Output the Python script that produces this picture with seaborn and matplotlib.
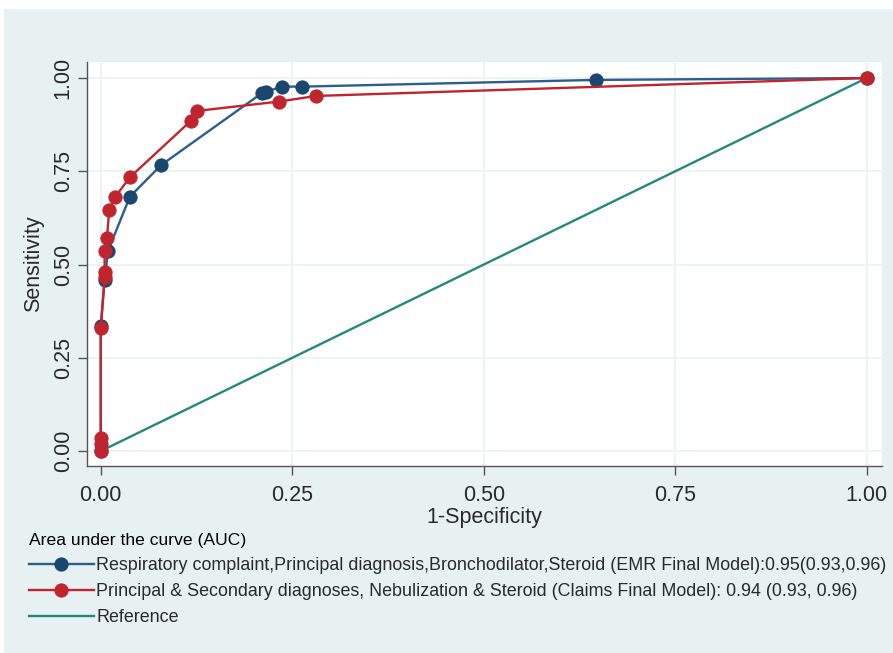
import pandas as pd
import seaborn as sns
import matplotlib
matplotlib.use('Agg')
import matplotlib.pyplot as plt
from matplotlib.patches import Rectangle

## ROC points
emr_fpr = [0, 0, 0.005, 0.0095, 0.038, 0.079, 0.210, 0.216, 0.236, 0.263, 0.646, 1.0]
emr_tpr = [0, 0.336, 0.458, 0.537, 0.682, 0.767, 0.959, 0.963, 0.977, 0.977, 0.995, 1.0]

claims_fpr = [0, 0, 0, 0, 0.005, 0.005, 0.005, 0.008, 0.011, 0.019, 0.038, 0.118, 0.126, 0.233, 0.281, 1.0]
claims_tpr = [0, 0.02, 0.034, 0.329, 0.467, 0.481, 0.537, 0.570, 0.646, 0.682, 0.734, 0.886, 0.912, 0.937, 0.952, 1.0]

ref_x = [0, 1]
ref_y = [0, 1]

emr_label = 'Respiratory complaint,Principal diagnosis,Bronchodilator,Steroid (EMR Final Model):0.95(0.93,0.96)'
claims_label = 'Principal & Secondary diagnoses, Nebulization & Steroid (Claims Final Model): 0.94 (0.93, 0.96)'
ref_label = 'Reference'

emr_df = pd.DataFrame({'fpr': emr_fpr, 'tpr': emr_tpr})
claims_df = pd.DataFrame({'fpr': claims_fpr, 'tpr': claims_tpr})
ref_df = pd.DataFrame({'fpr': ref_x, 'tpr': ref_y})

bg = '#e7f1f2'
navy = '#1a476f'
red = '#c0252f'
green = '#23897a'

plt.rcParams['font.family'] = ['Liberation Sans', 'DejaVu Sans']

fig = plt.figure(figsize=(8.93, 6.53), dpi=100)
fig.patch.set_facecolor('white')
# graph region (light blue), image has a thin white strip on top/left
fig.patches.append(Rectangle((4 / 893, 0), 1, 1 - 9 / 653, transform=fig.transFigure,
                             facecolor=bg, edgecolor='none', zorder=-10))

ax = fig.add_axes([87 / 893, 1 - 466 / 653, 795 / 893, 404 / 653])
ax.set_facecolor('white')

sns.lineplot(data=emr_df, x='fpr', y='tpr', sort=False, estimator=None, ax=ax,
             color='#2c5d8c', lw=1.7, marker='o', markersize=9.5,
             markerfacecolor=navy, markeredgecolor=navy, label=emr_label, zorder=3)
sns.lineplot(data=claims_df, x='fpr', y='tpr', sort=False, estimator=None, ax=ax,
             color=red, lw=1.7, marker='o', markersize=9.5,
             markerfacecolor=red, markeredgecolor=red, label=claims_label, zorder=4)
sns.lineplot(data=ref_df, x='fpr', y='tpr', sort=False, estimator=None, ax=ax,
             color=green, lw=1.7, label=ref_label, zorder=2)

ax.set_xlim(-0.018, 1.02)
ax.set_ylim(-0.04, 1.043)
ticks = [0, 0.25, 0.5, 0.75, 1.0]
tick_labels = ['0.00', '0.25', '0.50', '0.75', '1.00']
ax.set_xticks(ticks)
ax.set_yticks(ticks)
ax.set_xticklabels(tick_labels, fontsize=15.5, color='#2a2a2a')
ax.set_yticklabels(tick_labels, fontsize=15.5, color='#2a2a2a', rotation=90, va='center')
ax.grid(True, color='#eaf2f3', lw=1.2)
ax.set_axisbelow(True)
for s in ['top', 'right']:
    ax.spines[s].set_visible(False)
for s in ['left', 'bottom']:
    ax.spines[s].set_color('#555555')
    ax.spines[s].set_linewidth(1.0)
ax.tick_params(direction='out', length=6.5, color='#555555', width=1.0)
ax.tick_params(axis='x', pad=7)
ax.tick_params(axis='y', pad=3)

ax.set_xlabel('1-Specificity', fontsize=15.5, color='#2a2a2a', labelpad=1)
ax.set_ylabel('Sensitivity', fontsize=15.5, color='#2a2a2a', labelpad=6)

leg = ax.legend(loc='upper left', bbox_to_anchor=(29 / 893, 1 - 533 / 653),
                bbox_transform=fig.transFigure, frameon=False, fontsize=12.9,
                title='Area under the curve (AUC)', title_fontsize=12.6,
                alignment='left', handlelength=3.6, handletextpad=0.15,
                labelspacing=0.5, borderaxespad=0, borderpad=0)
for t in leg.get_texts():
    t.set_color('#2a2a2a')

fig.savefig('out.png', dpi=100, facecolor=fig.get_facecolor())
